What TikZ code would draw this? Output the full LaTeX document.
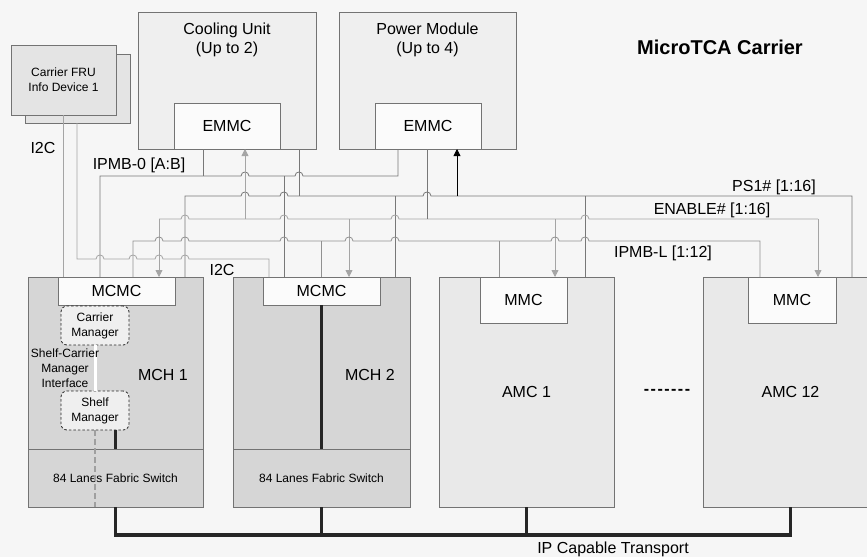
\documentclass[tikz,border=0pt]{standalone}
\usepackage{fontspec}
\setmainfont{Liberation Sans}
\usetikzlibrary{arrows.meta, positioning}
\definecolor{bggray}{RGB}{246,246,246}
\definecolor{boxline}{RGB}{115,115,115}
\definecolor{unitfill}{RGB}{239,239,239}
\definecolor{frufill}{RGB}{228,228,228}
\definecolor{mchfill}{RGB}{214,214,214}
\definecolor{amcfill}{RGB}{233,233,233}
\definecolor{ctrlfill}{RGB}{251,251,251}
\definecolor{wiredark}{RGB}{120,120,120}
\definecolor{wiremid}{RGB}{145,145,145}
\definecolor{wirelight}{RGB}{165,165,165}

% bridge over a crossing wire at x=#1 on a horizontal wire at y=#2
\newcommand{\hump}[2]{-- ({#1-4},#2) .. controls ({#1-4},{#2-5.3}) and ({#1+4},{#2-5.3}) .. ({#1+4},#2)}

\begin{document}
\begin{tikzpicture}[x=1pt, y=-1pt,
    box/.style={rectangle, draw=boxline, line width=0.8pt, inner sep=0pt, outer sep=0pt},
    unitbox/.style={box, fill=unitfill},
    frubox/.style={box, fill=frufill},
    mchbox/.style={box, fill=mchfill},
    amcbox/.style={box, fill=amcfill, font=\fontsize{16}{19}\selectfont},
    ctrl/.style={box, fill=ctrlfill, font=\fontsize{16}{19}\selectfont},
    mgr/.style={rectangle, rounded corners=6pt, draw=black!85, dash pattern=on 2.5pt off 2pt, line width=0.8pt,
                fill=mchfill!40!white, minimum width=68pt, minimum height=39pt, inner sep=0pt,
                align=center, font=\fontsize{12}{15}\selectfont},
    lbl/.style={inner sep=0pt, font=\fontsize{16}{19}\selectfont},
    small/.style={inner sep=0pt, align=center, font=\fontsize{12}{15}\selectfont},
    bus/.style={draw=wiredark, line width=0.8pt},
    enwire/.style={draw=wirelight, line width=0.8pt},
    lwire/.style={draw=wiremid, line width=0.8pt},
    arrowin/.style={-{Triangle[width=7pt, length=7pt]}},
    fabric/.style={draw=black!85, line width=3.6pt},
    ifline/.style={draw=gray!75, line width=2.6pt, dash pattern=on 6pt off 3pt},
]
    \useasboundingbox (0,0) rectangle (867,557);
    \fill[bggray] (0,0) rectangle (867,557);

    % carrier FRU
    \node[frubox, minimum width=105pt, minimum height=69pt] (fruback) at (77.5,88.5) {};
    \node[frubox, small, minimum width=105pt, minimum height=70pt] (frufront) at (63.5,80) {Carrier FRU\\Info Device 1};

    % cooling unit and power module
    \node[unitbox, minimum width=178pt, minimum height=137pt] (cool) at (227,80.5) {};
    \node[ctrl, minimum width=106pt, minimum height=46pt] (coolemmc) at (227,126) {EMMC};
    \node[lbl, align=center, below=11pt of cool.north] (cooltxt) {Cooling Unit\\(Up to 2)};

    \node[unitbox, minimum width=177pt, minimum height=137pt] (power) at (427.5,80.5) {};
    \node[ctrl, minimum width=106pt, minimum height=46pt] (poweremmc) at (428,126) {EMMC};
    \node[lbl, align=center, below=11pt of power.north] (powertxt) {Power Module\\(Up to 4)};

    \node[inner sep=0pt, font=\fontsize{20}{24}\selectfont\bfseries] (title) at (720,47) {MicroTCA Carrier};

    % MCH 1
    \node[mchbox, minimum width=175pt, minimum height=230pt] (mch1) at (115.5,392) {};
    \node[mchbox, small, minimum width=175pt, minimum height=58pt] (sw1) at (115.5,478) {84 Lanes Fabric Switch};
    \node[ctrl, minimum width=117pt, minimum height=28pt] (mcmc1) at (116.5,291) {MCMC};
    \node[mgr] (carriermgr) at (95,325.5) {Carrier\\Manager};
    \node[mgr] (shelfmgr) at (95,410.5) {Shelf\\Manager};
    \draw[white, line width=3pt] (carriermgr.south) -- (shelfmgr.north);
    \node[small] (smif) at (65,368) {Shelf-Carrier\\Manager\\Interface};
    \node[lbl] (mch1txt) at (163,375) {MCH 1};

    % MCH 2
    \node[mchbox, minimum width=177pt, minimum height=230pt] (mch2) at (321.5,392) {};
    \node[mchbox, small, minimum width=177pt, minimum height=58pt] (sw2) at (321.5,478) {84 Lanes Fabric Switch};
    \node[ctrl, minimum width=117pt, minimum height=28pt] (mcmc2) at (321.5,291) {MCMC};
    \node[lbl] (mch2txt) at (370,375) {MCH 2};

    % AMC 1 ... AMC 12
    \node[amcbox, minimum width=175pt, minimum height=230pt] (amc1) at (526.5,392) {AMC 1};
    \node[ctrl, minimum width=87pt, minimum height=46pt] (mmc1) at (523.5,300) {MMC};
    \node[lbl] (dots) at (667,392) {\bfseries -\kern1.5pt-\kern1.5pt-\kern1.5pt-\kern1.5pt-\kern1.5pt-\kern1.5pt-};
    \node[amcbox, minimum width=175pt, minimum height=230pt] (amc12) at (790.5,392) {AMC 12};
    \node[ctrl, minimum width=88pt, minimum height=46pt] (mmc12) at (792,300) {MMC};

    % IPMB-0 [A:B]
    \draw[bus] (mcmc1.north -| 100,0) -- (100,176) \hump{245}{176} \hump{299}{176} -- (398,176) -- (poweremmc.south -| 398,0);
    \draw[bus] (coolemmc.south -| 203,0) -- (203,176);
    \draw[bus] (284,176) -- (mcmc2.north -| 284,0);

    % PS1# [1:16]
    \draw[bus] (mch1.north -| 185,0) -- (185,196) \hump{245}{196} \hump{284}{196} \hump{427}{196} -- (852,196) -- (amc12.north -| 852,0);
    \draw[bus] (cool.south -| 299,0) -- (299,196);
    \draw[bus] (395,196) -- (mch2.north -| 395,0);
    \draw[bus] (585,196) -- (amc1.north -| 585,0);
    \draw[bus, arrowin, draw=black, fill=black] (457,196) -- (poweremmc.south -| 457,0);

    % ENABLE# [1:16]
    \draw[enwire] (159,219) \hump{185}{219} \hump{284}{219} \hump{395}{219} \hump{585}{219} -- (818,219);
    \draw[bus] (poweremmc.south -| 427,0) -- (427,219);
    \draw[enwire, arrowin, fill=wirelight] (159,219) -- (mcmc1.north -| 159,0);
    \draw[enwire, arrowin, fill=wirelight] (245,219) -- (coolemmc.south -| 245,0);
    \draw[enwire, arrowin, fill=wirelight] (349,219) -- (mcmc2.north -| 349,0);
    \draw[enwire, arrowin, fill=wirelight] (555,219) -- (mmc1.north -| 555,0);
    \draw[enwire, arrowin, fill=wirelight] (818,219) -- (mmc12.north -| 818,0);

    % IPMB-L [1:12]
    \draw[lwire] (mcmc1.north -| 133,0) -- (133,241) \hump{159}{241} \hump{185}{241} \hump{284}{241} \hump{349}{241} \hump{395}{241} \hump{555}{241} \hump{585}{241} -- (760,241) -- (mmc12.north -| 760,0);
    \draw[lwire] (321,241) -- (mcmc2.north -| 321,0);
    \draw[lwire] (499,241) -- (mmc1.north -| 499,0);

    % I2C
    \draw[enwire] (frufront.south -| 63,0) -- (mcmc1.north -| 63,0);
    \draw[enwire] (fruback.south -| 77,0) -- (77,259) \hump{100}{259} \hump{133}{259} \hump{159}{259} \hump{185}{259} -- (269,259) -- (mcmc2.north -| 269,0);

    % fabric and IP transport
    \draw[fabric] (sw1.north |- shelfmgr.south) -- (sw1.north);
    \draw[ifline] (shelfmgr.south) -- (shelfmgr.south |- sw1.south);
    \draw[fabric] (mcmc2.south) -- (sw2.north);
    \draw[fabric] (mch1.south) -- ++(0,28) -| (amc12.south);
    \draw[fabric] (mch2.south) -- ++(0,28);
    \draw[fabric] (amc1.south) -- ++(0,28);

    % labels
    \node[lbl] (i2cfru) at (43,148) {I2C};
    \node[lbl] (ipmb0lbl) at (139,165) {IPMB-0 [A:B]};
    \node[lbl] (i2cmch) at (222,270) {I2C};
    \node[lbl] (pslbl) at (774,187) {PS1\# [1:16]};
    \node[lbl] (enlbl) at (712,210) {ENABLE\# [1:16]};
    \node[lbl] (ipmbllbl) at (663,253) {IPMB-L [1:12]};
    \node[lbl] (iplbl) at (613,549) {IP Capable Transport};
\end{tikzpicture}
\end{document}
